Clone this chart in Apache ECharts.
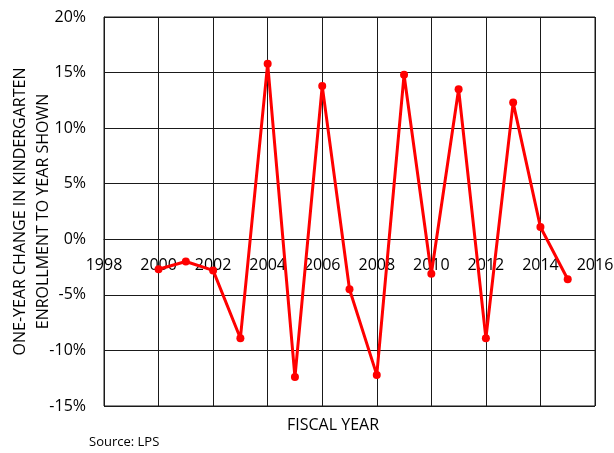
<!DOCTYPE html>
<html>
<head>
<meta charset="utf-8">
<script src="https://cdn.jsdelivr.net/npm/echarts@6/dist/echarts.min.js"></script>
<style>
  html, body { margin: 0; padding: 0; background: #fff; }
  #chart { width: 614px; height: 453px; }
</style>
</head>
<body>
<div id="chart"></div>
<script>
// fiscal years and one-year change (%) in kindergarten enrollment
var years = [2000, 2001, 2002, 2003, 2004, 2005, 2006, 2007, 2008, 2009, 2010, 2011, 2012, 2013, 2014, 2015];
var changePct = [-2.7, -2.0, -2.8, -8.9, 15.8, -12.4, 13.8, -4.5, -12.2, 14.8, -3.1, 13.5, -8.9, 12.3, 1.1, -3.6];
var yMin = -15, yMax = 20;

var fontFam = '"Open Sans", "Liberation Sans", sans-serif';
var gridColor = '#1a1a1a';
var gridTop = 17, gridBottom = 47, chartH = 453;

// x axis sits on the 0% line (onZero is not picked up here, so shift it by hand)
var plotH = chartH - gridTop - gridBottom;
var zeroShift = -plotH * (0 - yMin) / (yMax - yMin);

var chart = echarts.init(document.getElementById('chart'));

var option = {
    animation: false,
    backgroundColor: '#fff',
    grid: {
        left: 104,
        right: 19,
        top: gridTop,
        bottom: gridBottom,
        containLabel: false,
        outerBoundsMode: 'none',
        show: true,
        borderColor: gridColor,
        borderWidth: 1
    },
    xAxis: {
        type: 'value',
        min: 1998,
        max: 2016,
        interval: 2,
        offset: zeroShift,
        axisLine: { show: true, onZero: false, lineStyle: { color: gridColor, width: 1 } },
        axisTick: { show: false },
        axisLabel: {
            color: '#000',
            fontFamily: fontFam,
            fontSize: 16,
            margin: 18,
            showMinLabel: true,
            showMaxLabel: true,
            formatter: function (v) { return String(v); }
        },
        splitLine: { show: true, lineStyle: { color: gridColor, width: 1 } }
    },
    yAxis: {
        type: 'value',
        min: yMin,
        max: yMax,
        interval: 5,
        name: 'ONE-YEAR CHANGE IN KINDERGARTEN\nENROLLMENT TO YEAR SHOWN',
        nameLocation: 'middle',
        nameRotate: 90,
        nameGap: 49,
        nameMoveOverlap: false,
        nameTextStyle: {
            color: '#000',
            fontFamily: fontFam,
            fontSize: 16,
            lineHeight: 23
        },
        axisLine: { show: true, onZero: false, lineStyle: { color: gridColor, width: 1 } },
        axisTick: { show: false },
        axisLabel: {
            color: '#000',
            fontFamily: fontFam,
            fontSize: 16,
            margin: 18,
            formatter: '{value}%'
        },
        splitLine: { show: true, lineStyle: { color: gridColor, width: 1 } }
    },
    graphic: [
        {
            type: 'text',
            left: 287,
            top: 417,
            style: { text: 'FISCAL YEAR', fill: '#000', font: '16px ' + fontFam }
        },
        {
            type: 'text',
            left: 89,
            top: 436,
            style: { text: 'Source: LPS', fill: '#000', font: '13px ' + fontFam }
        }
    ],
    series: [{
        type: 'line',
        data: years.map(function (y, i) { return [y, changePct[i]]; }),
        symbol: 'circle',
        symbolSize: 8,
        lineStyle: { color: '#ff0000', width: 3 },
        itemStyle: { color: '#ff0000' }
    }]
};

chart.setOption(option);
</script>
</body>
</html>
